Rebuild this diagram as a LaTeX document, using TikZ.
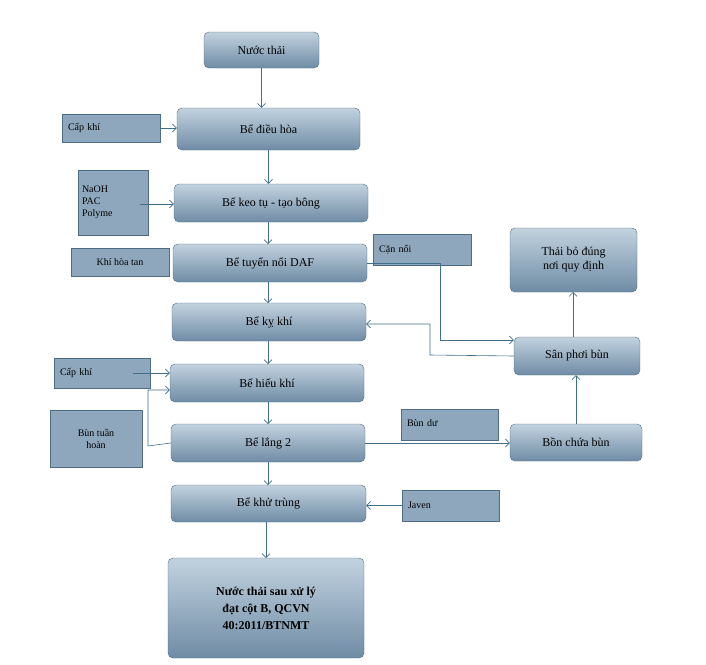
\documentclass[tikz,border=0pt]{standalone}
\usepackage{fontspec}
\setmainfont{Liberation Serif}
\usetikzlibrary{arrows.meta}
\definecolor{ln}{HTML}{3F6F8A}
\definecolor{bd}{HTML}{4E6C85}
\definecolor{gt}{HTML}{C2D2DF}
\definecolor{gb}{HTML}{6F8CA5}
\definecolor{sf}{HTML}{8EA7BC}
\tikzset{
 main/.style={draw=bd,rounded corners=5pt,top color=gt,bottom color=gb,font=\fontsize{12}{14}\selectfont,align=center,inner sep=0pt},
 side/.style={draw=bd,fill=sf,font=\fontsize{10}{12}\selectfont,inner sep=0pt},
 ar/.style={draw=ln,-{Straight Barb[length=4pt,width=8pt]},line width=0.6pt},
 pl/.style={draw=ln,line width=0.6pt}
}
\begin{document}
\begin{tikzpicture}[x=1pt,y=-1pt]
\useasboundingbox (0,0) rectangle (706,664);
\node[main,minimum width=115,minimum height=36] (nt) at (261.5,50) {Nước thải};
\node[main,minimum width=183,minimum height=42] (dh) at (268.5,129) {Bể điều hòa};
\node[side,minimum width=98,minimum height=28,text width=86,align=left] (ck1) at (111,128) {Cấp khí};
\node[main,minimum width=194,minimum height=38] (kt) at (271,203) {Bể keo tụ - tạo bông};
\node[side,minimum width=70,minimum height=65,text width=62,align=left] (na) at (113,202.5) {NaOH\\PAC\\Polyme};
\node[main,minimum width=194,minimum height=38] (daf) at (270,263) {Bể tuyển nổi DAF};
\node[side,minimum width=98,minimum height=28] (kh) at (120,262) {Khí hòa tan};
\node[side,minimum width=98,minimum height=31,text width=86,align=left,anchor=north west] (cn) at (373,234) {Cặn nổi\vphantom{g}};
\node[main,minimum width=127,minimum height=64] (tb) at (573.5,260) {Thải bỏ đúng\\nơi quy định};
\node[main,minimum width=194,minimum height=38] (kk) at (269,322) {Bể kỵ khí};
\node[main,minimum width=126,minimum height=38] (sp) at (577,356) {Sân phơi bùn};
\node[side,minimum width=96,minimum height=30,text width=84,align=left] (ck2) at (102,373) {Cấp khí};
\node[main,minimum width=194,minimum height=38] (hk) at (267,383) {Bể hiếu khí};
\node[side,minimum width=92,minimum height=57,align=center] (bth) at (96,438.5) {Bùn tuần\\hoàn};
\node[main,minimum width=194,minimum height=38] (l2) at (268,443) {Bể lắng 2};
\node[side,minimum width=97,minimum height=31,text width=85,align=left] (bd) at (449.5,424.5) {Bùn dư\vphantom{g}};
\node[main,minimum width=132,minimum height=37] (bc) at (576,442.5) {Bồn chứa bùn};
\node[main,minimum width=195,minimum height=37] (kt2) at (268.5,503.5) {Bể khử trùng};
\node[side,minimum width=97,minimum height=31,text width=85,align=left] (jv) at (450.5,505.5) {Javen};
\node[main,minimum width=196,minimum height=100,font=\fontsize{12}{17}\selectfont\bfseries] (out) at (266,608) {Nước thải sau xử lý\\đạt cột B, QCVN\\40:2011/BTNMT};
% main chain
\draw[ar] (nt.south) -- (nt.south|-dh.north);
\draw[ar] (dh.south) -- (dh.south|-kt.north);
\draw[ar] (268,222) -- (268,244);
\draw[ar] (268,282) -- (268,303);
\draw[ar] (268,341) -- (268,364);
\draw[ar] (268,402) -- (268,424);
\draw[ar] (268,462) -- (268,485);
\draw[ar] (266,522) -- (266,558);
% inputs
\draw[ar] (ck1.east) -- (dh.west|-ck1.east);
\draw[ar] (140,204) -- (kt.west|-140,204);
\draw[ar] (133,373) -- (hk.west|-133,373);
\draw[ar] (jv.west) -- (kt2.east|-jv.west);
% recirculation
\draw[ar] (l2.west) -- (148,446) -- (148,390) -- (hk.west|-148,390);
% sludge
\draw[ar] (daf.east) -- (440,263) -- (440,340) -- (sp.west|-440,340);
\draw[ar] (sp.west) -- (430,355) -- (430,324) -- (kk.east|-430,324);
\draw[ar] (l2.east) -- (bc.west|-l2.east);
\draw[ar] (bc.north) -- (bc.north|-sp.south);
\draw[ar] (573,337) -- (573,292);
\end{tikzpicture}
\end{document}
